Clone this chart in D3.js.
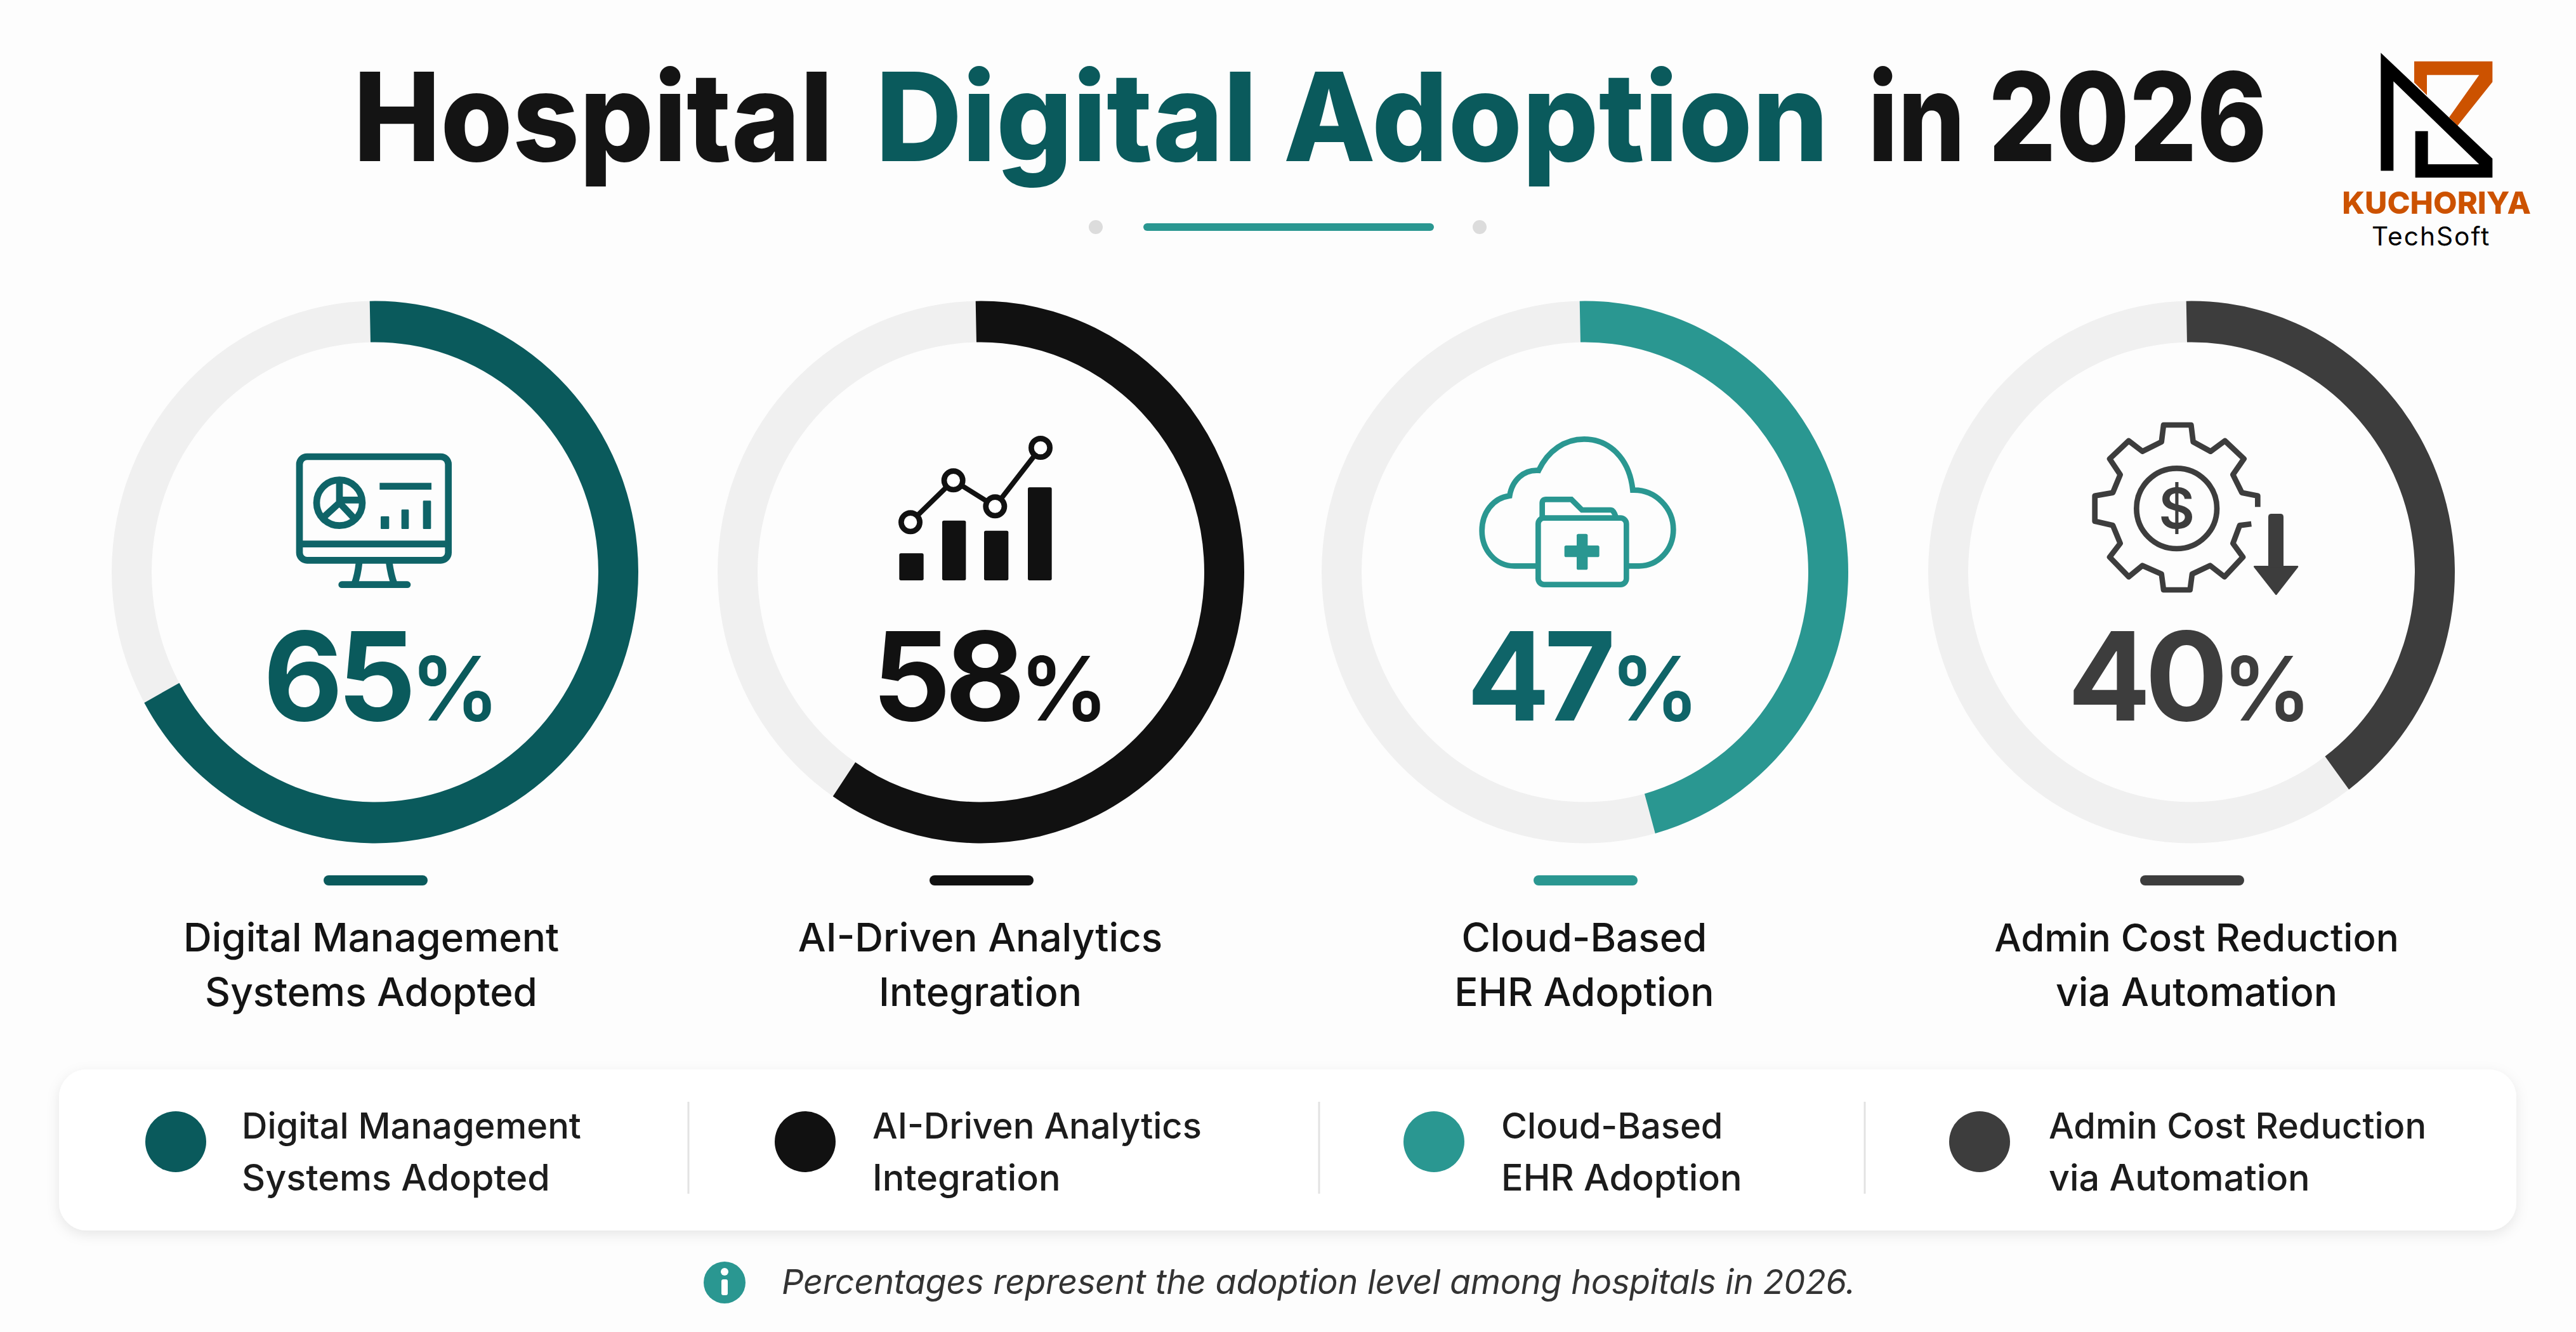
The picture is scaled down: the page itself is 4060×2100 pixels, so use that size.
<!DOCTYPE html>
<html>
<head>
<meta charset="utf-8">
<script src="https://cdn.jsdelivr.net/npm/d3@7"></script>
<style>
  html, body { margin: 0; background: #fdfdfd; }
  text { font-family: Inter, "Noto Sans", sans-serif; }
</style>
</head>
<body>
<svg id="canvas" width="4060" height="2100"></svg>
<script>
const percents = [65, 58, 47, 40];
// where each arc really stops in the picture, in percent of the circle
const arcEnds = [67, 59.5, 45.7, 39.8];
const labels = [
    ["Digital Management", "Systems Adopted"],
    ["AI-Driven Analytics", "Integration"],
    ["Cloud-Based", "EHR Adoption"],
    ["Admin Cost Reduction", "via Automation"]
];
const title_parts = ["Hospital", "Digital Adoption", "in 2026"];
const title_x = [557, 1380, 2944];
const title_w = [756, 1502, 629];
const colors = ["#0a5a5c", "#111111", "#2a9791", "#3d3d3d"];
const ring_x = [591, 1546, 2498, 3454];
const pct_x = [601, 1561, 2495, 3451];
const label_x = [585, 1545, 2497, 3462];
const label_size = [62, 62, 62, 60];
const legend_dot_x = [277, 1269, 2260, 3120];
const legend_text_x = [381, 1375, 2366, 3229];
const legend_seps = [1085, 2079, 2939];

const ring_y = 902;
const outer_r = 415;
const inner_r = 352;
const ring_stretch = 1.03; // the rings in the picture are a bit taller than wide

const svg = d3.select("svg#canvas");

const defs = svg.append("defs");
const shadow = defs.append("filter").attr("id", "soft")
    .attr("x", "-2%").attr("y", "-20%").attr("width", "104%").attr("height", "150%");
shadow.append("feDropShadow")
    .attr("dx", 0).attr("dy", 6).attr("stdDeviation", 10)
    .attr("flood-color", "#000").attr("flood-opacity", 0.09);

// title
svg.selectAll("text.title").data(title_parts).join("text")
    .attr("class", "title")
    .attr("x", (_, i) => title_x[i]).attr("y", 254)
    .attr("textLength", (_, i) => title_w[i])
    .attr("lengthAdjust", "spacingAndGlyphs")
    .attr("font-size", 194).attr("font-weight", 800)
    .attr("fill", (_, i) => i == 1 ? colors[0] : "#141414")
    .text(d => d);

// little divider under the title
svg.append("rect").attr("x", 1802).attr("y", 352).attr("width", 458).attr("height", 12)
    .attr("rx", 6).attr("fill", "#2a9791");
svg.selectAll("circle.deco").data([1727, 2332]).join("circle")
    .attr("class", "deco")
    .attr("cx", d => d).attr("cy", 358).attr("r", 11).attr("fill", "#dcdcdc");

// rings
const angle = d3.scaleLinear().domain([0, 100]).range([0, 2 * Math.PI]);
const start_a = -0.02;
const arc = d3.arc().innerRadius(inner_r).outerRadius(outer_r);

const rings = svg.selectAll("g.ring")
    .data(percents)
    .join("g")
    .attr("class", "ring")
    .attr("transform", (_, i) => `translate(${ring_x[i]},${ring_y}) scale(1,${ring_stretch})`);

rings.append("path")
    .attr("d", arc({startAngle: 0, endAngle: 2 * Math.PI}))
    .attr("fill", "#f0f0f0");

rings.append("path")
    .attr("d", (_, i) => arc({startAngle: start_a, endAngle: angle(arcEnds[i])}))
    .attr("fill", (_, i) => colors[i]);

const pct = svg.selectAll("text.pct")
    .data(percents)
    .join("text")
    .attr("class", "pct")
    .attr("x", (_, i) => pct_x[i]).attr("y", 1136)
    .attr("text-anchor", "middle")
    .attr("fill", (_, i) => i == 2 ? "#0f6468" : colors[i]);
pct.append("tspan").attr("font-size", 194).attr("font-weight", 700).attr("letter-spacing", -9).text(d => d);
pct.append("tspan").attr("font-size", 140).attr("font-weight", 600).text("%");

// short bar + label under each ring
svg.selectAll("rect.pill").data(percents).join("rect")
    .attr("class", "pill")
    .attr("x", (_, i) => ring_x[i] - 81).attr("y", 1380)
    .attr("width", 164).attr("height", 16).attr("rx", 8)
    .attr("fill", (_, i) => colors[i]);

labels.forEach((lines, i) => {
    lines.forEach((line, j) => {
        svg.append("text")
            .attr("x", label_x[i]).attr("y", 1500 + j * 86)
            .attr("text-anchor", "middle")
            .attr("font-size", j == 0 ? label_size[i] : 62).attr("font-weight", 500)
            .attr("fill", "#141414")
            .text(line);
    });
});

// legend panel
svg.append("rect")
    .attr("x", 93).attr("y", 1686).attr("width", 3873).attr("height", 254)
    .attr("rx", 44).attr("fill", "#fff").attr("filter", "url(#soft)");

svg.selectAll("line.sep").data(legend_seps).join("line")
    .attr("class", "sep")
    .attr("x1", d => d).attr("x2", d => d).attr("y1", 1737).attr("y2", 1882)
    .attr("stroke", "#e3e3e3").attr("stroke-width", 3);

svg.selectAll("circle.key").data(percents).join("circle")
    .attr("class", "key")
    .attr("cx", (_, i) => legend_dot_x[i]).attr("cy", 1800).attr("r", 48)
    .attr("fill", (_, i) => colors[i]);

labels.forEach((lines, i) => {
    lines.forEach((line, j) => {
        svg.append("text")
            .attr("x", legend_text_x[i]).attr("y", 1795 + j * 82)
            .attr("font-size", j == 0 ? 56 : 57.5).attr("font-weight", 500)
            .attr("fill", "#1c1c1c")
            .text(line);
    });
});

// footnote
svg.append("circle").attr("cx", 1142).attr("cy", 2022).attr("r", 33).attr("fill", "#2a9791");
svg.append("rect").attr("x", 1137).attr("y", 2017).attr("width", 10).attr("height", 25).attr("rx", 3).attr("fill", "#fff");
svg.append("circle").attr("cx", 1142).attr("cy", 2005).attr("r", 6).attr("fill", "#fff");
svg.append("text")
    .attr("x", 1232).attr("y", 2040)
    .attr("font-size", 54).attr("font-style", "italic")
    .attr("letter-spacing", -0.3)
    .attr("fill", "#333")
    .text("Percentages represent the adoption level among hospitals in 2026.");

// icons: drawn in coords of a 3x crop, so scale back down
const icon = (x, y) => svg.append("g").attr("transform", `translate(${x},${y}) scale(${1 / 3})`);
const bars = (g, list, fill) => g.selectAll("rect.b").data(list).join("rect")
    .attr("class", "b")
    .attr("x", d => d[0]).attr("y", d => d[1])
    .attr("width", d => d[2] - d[0]).attr("height", d => d[3] - d[1])
    .attr("rx", 8).attr("fill", fill);

// monitor
const mon = icon(400, 660).attr("fill", "none").attr("stroke", "#0f6468").attr("stroke-width", 32);
mon.append("rect").attr("x", 216).attr("y", 180).attr("width", 704).attr("height", 490).attr("rx", 36);
mon.append("line").attr("x1", 216).attr("x2", 920).attr("y1", 593).attr("y2", 593);
mon.append("path").attr("d", "M498,680 Q492,740 475,785 M640,680 Q648,740 665,785");
mon.append("line").attr("x1", 416).attr("x2", 726).attr("y1", 785).attr("y2", 785).attr("stroke-linecap", "round");
mon.append("circle").attr("cx", 405).attr("cy", 398).attr("r", 108);
mon.append("path").attr("d", "M405,290 V398 M405,385 H510 M405,398 L335,462 M405,398 L475,472");
mon.append("line").attr("x1", 595).attr("x2", 840).attr("y1", 320).attr("y2", 320);
bars(mon, [[600, 462, 640, 522], [698, 430, 733, 522], [800, 388, 838, 522]], "#0f6468").attr("stroke", "none").attr("rx", 4);

// trend bars
const trend = icon(1360, 660);
bars(trend, [[172, 637, 287, 765], [375, 482, 487, 765], [573, 530, 688, 765], [780, 325, 893, 765]], "#111");
const nodes = [[225, 490], [428, 292], [625, 415], [840, 138]];
trend.append("path").attr("d", d3.line()(nodes)).attr("fill", "none").attr("stroke", "#111").attr("stroke-width", 24);
trend.selectAll("circle").data(nodes).join("circle")
    .attr("cx", d => d[0]).attr("cy", d => d[1]).attr("r", 44)
    .attr("fill", "#fff").attr("stroke", "#111").attr("stroke-width", 26);

// cloud + folder
const cloud = icon(2290, 660).attr("fill", "none").attr("stroke", "#2a9791").attr("stroke-width", 26);
cloud.append("path").attr("d", "M395,697 H290 C200,697 137,620 137,530 C137,445 190,375 268,365 C280,290 335,240 405,245 C450,150 530,97 620,97 C740,97 835,190 850,338 C960,335 1042,425 1042,525 C1042,620 970,697 880,697 H825");
cloud.append("rect").attr("x", 403).attr("y", 470).attr("width", 417).attr("height", 315).attr("rx", 28).attr("fill", "#fdfdfd");
cloud.append("path").attr("d", "M422,465 V400 Q422,382 440,382 H560 L610,432 H745 Q760,432 770,465");
bars(cloud, [[585, 545, 637, 715], [527, 600, 692, 655]], "#2a9791").attr("stroke", "none");

// gear + dollar + down arrow
const gear_pts = [[865, 558], [810, 565], [778, 650], [825, 715], [738, 808], [670, 755], [585, 795], [575, 870], [450, 870], [440, 795], [350, 755], [285, 808], [195, 715], [245, 650], [210, 565], [125, 545], [125, 425], [210, 410], [245, 325], [195, 250], [285, 165], [350, 215], [440, 170], [450, 90], [580, 90], [590, 170], [672, 215], [740, 165], [830, 250], [778, 325], [820, 410], [895, 425], [895, 478]];
const cost = icon(3260, 640);
cost.append("path").attr("d", d3.line()(gear_pts))
    .attr("fill", "none").attr("stroke", "#3d3d3d").attr("stroke-width", 26).attr("stroke-linejoin", "round");
cost.append("circle").attr("cx", 512).attr("cy", 485).attr("r", 190)
    .attr("fill", "none").attr("stroke", "#3d3d3d").attr("stroke-width", 26);
cost.append("text").attr("x", 512).attr("y", 580).attr("text-anchor", "middle")
    .attr("font-size", 262).attr("font-weight", 600).attr("fill", "#3d3d3d").text("$");
cost.append("rect").attr("x", 945).attr("y", 510).attr("width", 72).attr("height", 270).attr("rx", 14).attr("fill", "#3d3d3d");
cost.append("path").attr("d", "M880,760 L1083,760 L982,890 Z").attr("fill", "#3d3d3d")
    .attr("stroke", "#3d3d3d").attr("stroke-width", 8).attr("stroke-linejoin", "round");

// logo
const logo = icon(3600, 50);
logo.append("path").attr("fill", "#cc5200")
    .attr("d", "M615,140 H985 V238 L820,445 L780,405 L922,205 H675 V300 L615,240 Z");
logo.append("path").attr("fill", "#000")
    .attr("d", "M457,100 L985,600 V690 H620 V470 H680 V627 H922 L517,235 V658 H457 Z");
logo.append("text").attr("x", 720).attr("y", 860).attr("text-anchor", "middle")
    .attr("font-size", 146).attr("font-weight", 800).attr("fill", "#cc5200").text("KUCHORIYA");
logo.append("text").attr("x", 695).attr("y", 1012).attr("text-anchor", "middle")
    .attr("font-size", 122).attr("font-weight", 400).attr("letter-spacing", 6).attr("fill", "#000").text("TechSoft");
</script>
</body>
</html>
